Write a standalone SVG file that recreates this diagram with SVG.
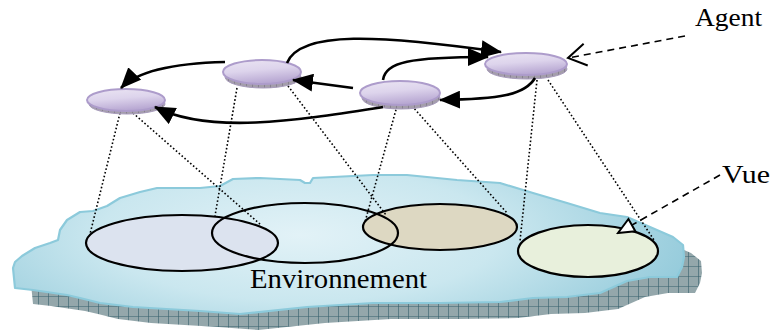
<svg xmlns="http://www.w3.org/2000/svg" width="773" height="335" viewBox="0 0 773 335">
<style>
.lbl{fill:#000;font-family:"Liberation Serif","Times New Roman",serif}
.view{stroke:#000;stroke-width:2.2}
.proj{fill:none;stroke:#000;stroke-width:1.6;stroke-dasharray:1.6 2.2}
.flow{fill:none;stroke:#000;stroke-width:2.6;marker-end:url(#ah)}
.ptr{fill:none;stroke:#000;stroke-width:1.6;stroke-dasharray:7 5}
.top{fill:url(#discG);stroke:#ad9ccb;stroke-width:2}
.rim{fill:url(#rimP);stroke:#a89cbc;stroke-width:1}
</style>
<defs>
<radialGradient id="cloudG" gradientUnits="userSpaceOnUse" cx="300" cy="235" r="400" gradientTransform="translate(300 235) scale(1 0.33) translate(-300 -235)">
<stop offset="0" stop-color="#e2f2f7"/>
<stop offset="0.5" stop-color="#cae7ef"/>
<stop offset="1" stop-color="#95cbdb"/>
</radialGradient>
<linearGradient id="discG" x1="0" y1="0" x2="0.3" y2="1">
<stop offset="0" stop-color="#ebe5f3"/>
<stop offset="0.5" stop-color="#ddd4ec"/>
<stop offset="1" stop-color="#b9a9d3"/>
</linearGradient>
<pattern id="shadowP" patternUnits="userSpaceOnUse" width="10" height="10">
<rect width="10" height="10" fill="#94a7ab"/>
<path d="M0 0H10M0 0V10" stroke="#355f6b" stroke-width="1.2"/>
</pattern>
<pattern id="rimP" patternUnits="userSpaceOnUse" width="6" height="6">
<rect width="6" height="6" fill="#a49eab"/>
<path d="M0 0V6" stroke="#5e5668" stroke-width="0.8"/>
</pattern>
<marker id="ah" markerUnits="userSpaceOnUse" markerWidth="22" markerHeight="18" refX="20" refY="9" orient="auto">
<path d="M0 0L21 9L0 18z" fill="#000"/>
</marker>
<marker id="vee" markerUnits="userSpaceOnUse" markerWidth="22" markerHeight="26" refX="20" refY="13" orient="auto">
<path d="M2 2L20 13L2 24" fill="none" stroke="#000" stroke-width="2"/>
</marker>
<marker id="tri" markerUnits="userSpaceOnUse" markerWidth="20" markerHeight="18" refX="18" refY="9" orient="auto">
<path d="M2 2L18 9L2 16z" fill="#fff" stroke="#000" stroke-width="2"/>
</marker>
</defs>

<g id="environnement">
<path id="env-shadow" transform="translate(18 16)" fill="url(#shadowP)" d="M15 288L13 268L15 262L22 256L35 248L50 243L58 240L60 230L67 220L80 212L93 211L107 206L120 198L140 192L157 188L200 188L220 186L233 179L260 178L300 180L305 183L310 183L313 178L373 175L407 175L457 180L500 183L533 193L567 203L600 213L627 217L650 227L673 237L683 245L684 257L682 267L677 277L650 277L627 281L600 293L567 297L533 298L500 302L440 303L373 303L307 307L240 314L200 311L133 307L100 303L80 298L67 295L33 290Z"/>
<path id="env-cloud" fill="url(#cloudG)" stroke="#8ccadb" stroke-width="2.2" stroke-linejoin="round" d="M15 288L13 268L15 262L22 256L35 248L50 243L58 240L60 230L67 220L80 212L93 211L107 206L120 198L140 192L157 188L200 188L220 186L233 179L260 178L300 180L305 183L310 183L313 178L373 175L407 175L457 180L500 183L533 193L567 203L600 213L627 217L650 227L673 237L683 245L684 257L682 267L677 277L650 277L627 281L600 293L567 297L533 298L500 302L440 303L373 303L307 307L240 314L200 311L133 307L100 303L80 298L67 295L33 290Z"/>
<text class="lbl" x="250" y="288" font-size="28" textLength="177" lengthAdjust="spacingAndGlyphs">Environnement</text>
</g>

<g id="vues">
<g id="vue1"><ellipse cx="182" cy="243" rx="96" ry="28" fill="#dce3ef"/></g>
<g id="vue2"><ellipse cx="305" cy="233" rx="93" ry="30" fill="none"/></g>
<g id="vue3"><ellipse cx="440" cy="227" rx="77" ry="23" fill="#ddd8c2"/></g>
<g id="vue4"><ellipse cx="588" cy="251" rx="70" ry="26" fill="#e8f0dc"/></g>
<ellipse class="view" cx="182" cy="243" rx="96" ry="28" fill="none"/>
<ellipse class="view" cx="305" cy="233" rx="93" ry="30" fill="none"/>
<ellipse class="view" cx="440" cy="227" rx="77" ry="23" fill="none"/>
<ellipse class="view" cx="588" cy="251" rx="70" ry="26" fill="none"/>
</g>

<g id="projections">
<path class="proj" d="M120 113L90 234"/>
<path class="proj" d="M133 113L261 225"/>
<path class="proj" d="M237 88L215 216"/>
<path class="proj" d="M288 86L386 215"/>
<path class="proj" d="M397 106L365 222"/>
<path class="proj" d="M412 106L507 213"/>
<path class="proj" d="M537 80L520 241"/>
<path class="proj" d="M548 80L654 240"/>
</g>

<g id="agent1"><ellipse class="rim" cx="127" cy="104" rx="38" ry="10"/><ellipse class="top" cx="126" cy="100" rx="39" ry="11"/></g>
<g id="agent2"><ellipse class="rim" cx="263" cy="77" rx="38" ry="11"/><ellipse class="top" cx="262" cy="72" rx="39" ry="12"/></g>
<g id="agent3"><ellipse class="rim" cx="401" cy="98" rx="39" ry="11"/><ellipse class="top" cx="400" cy="93" rx="40" ry="12"/></g>
<g id="agent4"><ellipse class="rim" cx="527" cy="69" rx="40" ry="10"/><ellipse class="top" cx="526" cy="64" rx="41" ry="11"/></g>

<g id="connecteurs">
<path class="flow" d="M225 62C185 63 140 68 121 88"/>
<path class="flow" d="M353 88L293 80"/>
<path class="flow" d="M383 107C300 120 210 135 155 107"/>
<path class="flow" d="M287 63C300 30 380 35 501 52"/>
<path class="flow" d="M383 80C385 62 410 57 488 57"/>
<path class="flow" d="M535 78C525 95 500 99 440 100"/>
<path class="ptr" d="M685 36L568 58" marker-end="url(#vee)"/>
<path class="ptr" d="M720 175L618 233" marker-end="url(#tri)"/>
</g>

<g id="labels">
<text class="lbl" x="695" y="26" font-size="26" textLength="67" lengthAdjust="spacingAndGlyphs">Agent</text>
<text class="lbl" x="722" y="183" font-size="26" textLength="48" lengthAdjust="spacingAndGlyphs">Vue</text>
</g>
</svg>
